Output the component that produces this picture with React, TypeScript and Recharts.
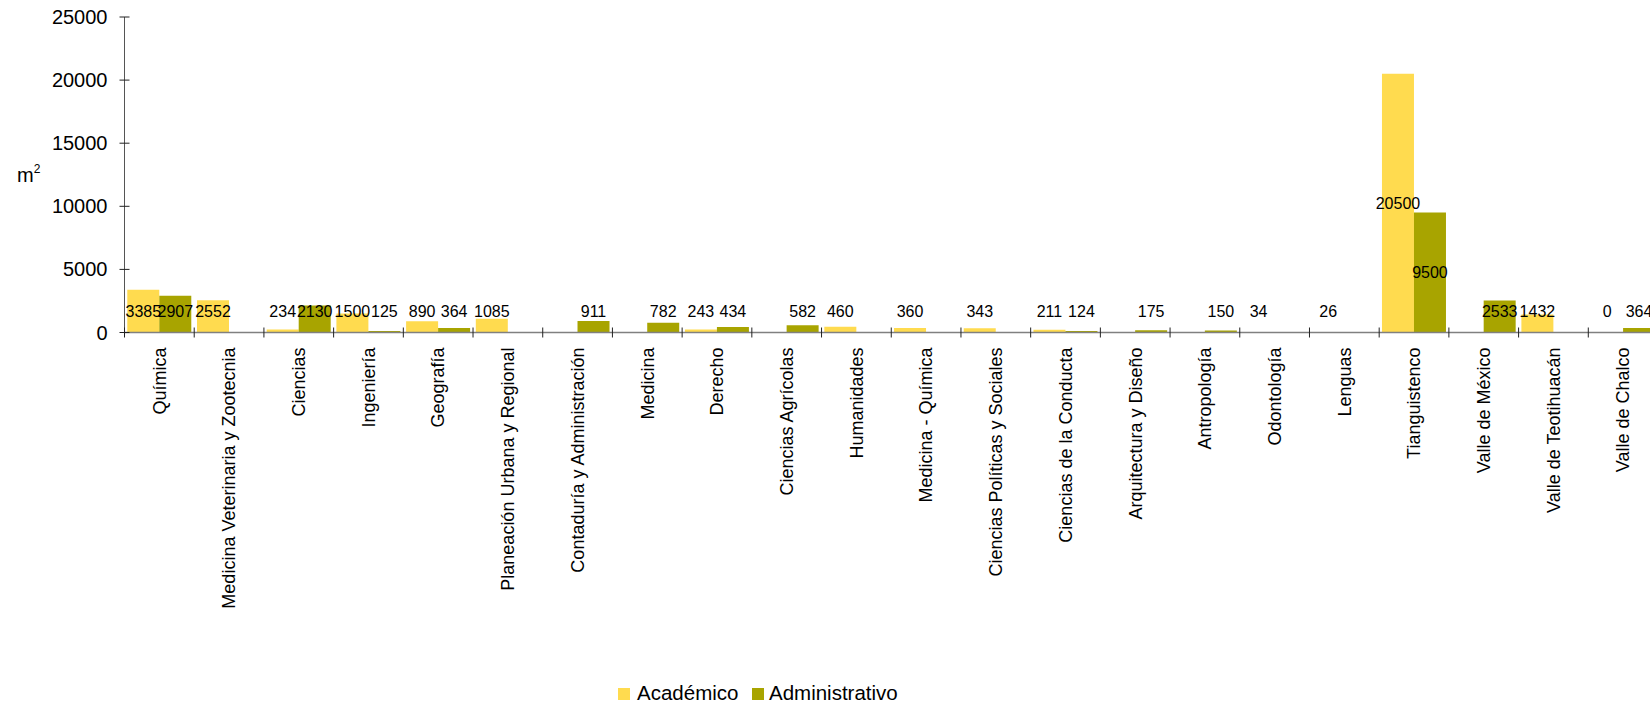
import React from "react";
import { BarChart, Bar, XAxis, YAxis, LabelList } from "recharts";

// campus / faculty names, in axis order
const categories = [
  "Química",
  "Medicina Veterinaria y Zootecnia",
  "Ciencias",
  "Ingeniería",
  "Geografía",
  "Planeación Urbana y Regional",
  "Contaduría y Administración",
  "Medicina",
  "Derecho",
  "Ciencias Agrícolas",
  "Humanidades",
  "Medicina - Química",
  "Ciencias Políticas y Sociales",
  "Ciencias de la Conducta",
  "Arquitectura y Diseño",
  "Antropología",
  "Odontología",
  "Lenguas",
  "Tianguistenco",
  "Valle de México",
  "Valle de Teotihuacán",
  "Valle de Chalco",
];

// m² per space type (null = no bar / no label)
const academico = [
  3385, 2552, 234, 1500, 890, 1085, null, null, 243, null, 460, 360, 343, 211,
  null, null, 34, 26, 20500, null, 1432, 0,
];
const administrativo = [
  2907, null, 2130, 125, 364, null, 911, 782, 434, 582, null, null, null, 124,
  175, 150, null, null, 9500, 2533, null, 364,
];

const yTicks = [0, 5000, 10000, 15000, 20000, 25000];

const SERIES = [
  { key: "academico", name: "Académico", color: "#FFDB4F" },
  { key: "administrativo", name: "Administrativo", color: "#A8A400" },
];

const FONT = '"Liberation Sans", Arial, sans-serif';
const CHART_W = 1658;
const CHART_H = 704;
const Y_AXIS_W = 124.5;
const BAND = (CHART_W - Y_AXIS_W) / categories.length;

const data = categories.map((name, i) => ({
  name,
  academico: academico[i],
  administrativo: administrativo[i],
}));

function CategoryTick(props: any) {
  const { x, y, payload } = props;
  const left = x - BAND / 2;
  return (
    <g>
      {/* excel-style tick on the category boundary, crossing the axis */}
      <line x1={left} x2={left} y1={y - 20} y2={y - 10} stroke="#222" />
      <text
        x={x}
        y={y}
        transform={`rotate(-90, ${x}, ${y})`}
        textAnchor="end"
        dy="0.35em"
        fontSize={18}
        fill="#000"
      >
        {payload.value}
      </text>
    </g>
  );
}

function ValueTick(props: any) {
  const { x, y, payload } = props;
  return (
    <g>
      <line x1={x + 12} x2={x + 22} y1={y} y2={y} stroke="#222" />
      <text x={x} y={y} textAnchor="end" dy="0.35em" fontSize={20} fill="#000">
        {payload.value}
      </text>
    </g>
  );
}

function BarValue(props: any) {
  const { value } = props;
  if (value === null || value === undefined) return null;
  const box = props.viewBox ?? props;
  const { x, y, width, height } = box;
  const base = y + height;
  // centred in the bar, but never lower than ~21px above the baseline
  const cy = Math.min(y + height / 2, base - 21);
  return (
    <text
      x={x + width / 2}
      y={cy}
      dy="0.35em"
      textAnchor="middle"
      fontSize={16}
      fill="#000"
    >
      {value}
    </text>
  );
}

function UnitLabel(props: any) {
  const vb = props.viewBox;
  const cy = vb.y + vb.height / 2;
  return (
    <text x={17} y={cy + 7.5} fontSize={20} fill="#000">
      m
      <tspan fontSize={12} dy={-9}>
        2
      </tspan>
    </text>
  );
}

// zero-valued bars still need a rect so their "0" label gets drawn
const keepZero = (v: number) => (v === 0 ? 0.01 : 0);

export default function App() {
  return (
    <div
      style={{
        position: "absolute",
        left: 0,
        top: 0,
        width: 1650,
        height: 704,
        overflow: "hidden",
        background: "#fff",
        fontFamily: FONT,
      }}
    >
      <BarChart
        width={CHART_W}
        height={CHART_H}
        data={data}
        margin={{ top: 17, right: 0, bottom: 0, left: 0 }}
        barCategoryGap="4%"
        barGap={0}
      >
        <XAxis
          dataKey="name"
          interval={0}
          height={371.5}
          tickSize={5}
          tickMargin={10}
          tickLine={false}
          axisLine={{ stroke: "#808080", strokeWidth: 1.5 }}
          tick={<CategoryTick />}
        />
        <YAxis
          width={Y_AXIS_W}
          domain={[0, 25000]}
          ticks={yTicks}
          interval={0}
          tickSize={5}
          tickMargin={12}
          tickLine={false}
          axisLine={{ stroke: "#555" }}
          tick={<ValueTick />}
          label={<UnitLabel />}
        />
        {SERIES.map((s) => (
          <Bar
            key={s.key}
            dataKey={s.key}
            name={s.name}
            fill={s.color}
            minPointSize={keepZero}
            isAnimationActive={false}
          >
            <LabelList dataKey={s.key} content={<BarValue />} />
          </Bar>
        ))}
      </BarChart>

      {/* legend */}
      {SERIES.map((s, i) => (
        <React.Fragment key={s.key}>
          <div
            style={{
              position: "absolute",
              left: i === 0 ? 618 : 752,
              top: 688,
              width: 12,
              height: 12,
              background: s.color,
            }}
          />
          <span
            style={{
              position: "absolute",
              left: i === 0 ? 637 : 769,
              top: 683,
              fontSize: 20.5,
              lineHeight: "20px",
              color: "#000",
              whiteSpace: "nowrap",
            }}
          >
            {s.name}
          </span>
        </React.Fragment>
      ))}
    </div>
  );
}
